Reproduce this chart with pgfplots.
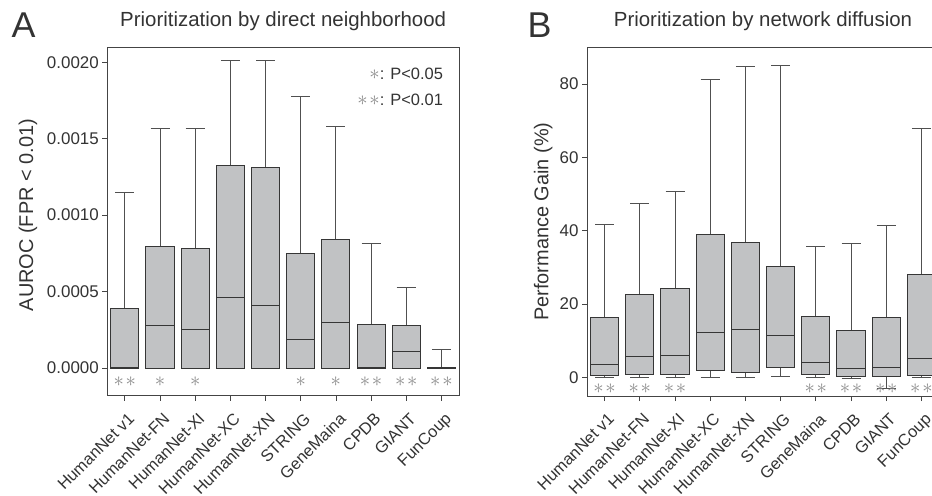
\documentclass[border=0pt]{standalone}
\usepackage{fontspec}
\setmainfont{Liberation Sans}
\usepackage{pgfplots}
\usepackage{pgfplotstable}
\pgfplotsset{compat=1.18}
\usepgfplotslibrary{statistics}

\definecolor{boxfill}{HTML}{C1C2C4}
\definecolor{boxedge}{HTML}{363636}
\definecolor{whisk}{HTML}{505050}
\definecolor{txt}{HTML}{333333}
\definecolor{stargray}{HTML}{8C8C8C}
\definecolor{axgray}{HTML}{444444}

\newcommand{\fs}[1]{\fontsize{#1}{#1}\selectfont}

% box statistics, one row per network
\pgfplotstableread{
pos lw q1 med q3 uw
0 0 0 0.000005 0.000388 0.001145
1 0 0 0.000275 0.000792 0.00157
2 0 0 0.000249 0.000779 0.001566
3 0 0 0.000462 0.001322 0.002013
4 0 0 0.000412 0.001313 0.002009
5 0 0 0.000185 0.000748 0.001774
6 0 0 0.000296 0.00084  0.001577
7 0 0 0.000002 0.000283 0.000813
8 0 0 0.000109 0.000277 0.000525
9 0 0 0.000001 0.000004 0.000124
}\dataA

\pgfplotstableread{
pos lw q1 med q3 uw
0 0    0.55 3.55  16.26 41.75
1 0    0.8  5.6   22.65 47.3
2 0    0.9  6.0   24.2  50.8
3 0    1.8  12.3  39.0  81.2
4 0    1.36 13.0  36.7  84.75
5 0.3  2.6  11.35 30.3  84.9
6 0    0.7  4.1   16.7  35.55
7 -0.3 0.1  2.45  12.8  36.6
8 -3.0 0.15 2.8   16.4  41.4
9 0    0.5  5.2   28.0  67.75
}\dataB

% significance marks: x, y, number of stars
\pgfplotstableread{
x y n
0 -0.00009 2
1 -0.00009 1
2 -0.00009 1
5 -0.00009 1
6 -0.00009 1
7 -0.00009 2
8 -0.00009 2
9 -0.00009 2
}\starsA

\pgfplotstableread{
x y n
0 -3.0 2
1 -3.0 2
2 -3.0 2
6 -3.0 2
7 -3.0 2
8 -3.0 2
9 -3.0 2
}\starsB

% draw one box from row #2 of table #1
\newcommand{\boxrow}[2]{%
  \pgfplotstablegetelem{#2}{lw}\of#1\let\vlw\pgfplotsretval
  \pgfplotstablegetelem{#2}{q1}\of#1\let\vqa\pgfplotsretval
  \pgfplotstablegetelem{#2}{med}\of#1\let\vmed\pgfplotsretval
  \pgfplotstablegetelem{#2}{q3}\of#1\let\vqc\pgfplotsretval
  \pgfplotstablegetelem{#2}{uw}\of#1\let\vuw\pgfplotsretval
  \edef\temp{\noexpand\addplot[boxplot prepared={draw position=#2,
      lower whisker=\vlw, lower quartile=\vqa, median=\vmed,
      upper quartile=\vqc, upper whisker=\vuw}] coordinates {};}%
  \temp
}

\pgfplotsset{
  panel/.style={
    scale only axis,
    height=348.7bp,
    xmin=-0.5, xmax=9.5,
    xtick={0,...,9},
    xticklabels={HumanNet v1,HumanNet-FN,HumanNet-XI,HumanNet-XC,HumanNet-XN,STRING,GeneMaina,CPDB,GIANT,FunCoup},
    tick align=outside, tick pos=left,
    major tick length=5bp,
    tick style={axgray, line width=0.8pt},
    axis line style={axgray, line width=0.8pt},
    /pgf/number format/assume math mode=true,
    tick label style={font=\fs{17}, text=txt},
    xticklabel style={xshift=2.5bp, yshift=-9.5bp, rotate=45, anchor=north east, font=\fs{16.5}, inner sep=1pt},
    title style={at={(0.5,1)}, anchor=base, yshift=14.7bp, font=\fs{20.5}, text=txt},
    ylabel style={anchor=base, font=\fs{20}, text=txt},
    boxplot/draw direction=y,
    boxplot/box extend=0.8,
    boxplot/whisker extend=0.54,
    boxplot/every box/.style={draw=boxedge, fill=boxfill, line width=1pt},
    boxplot/every whisker/.style={draw=whisk, line width=1pt},
    boxplot/every median/.style={draw=boxedge, line width=1pt},
  },
  stars/.style={
    only marks, mark=none,
    point meta=explicit symbolic,
    nodes near coords={\ifnum\pgfplotspointmeta=2 $\ast\mkern1.5mu\ast$\else$\ast$\fi},
    every node near coord/.style={anchor=center, inner sep=0pt, text=stargray, font=\fs{21}},
  },
}

\begin{document}
\begin{tikzpicture}
\begin{axis}[
    panel,
    at={(107.3bp,100.3bp)}, anchor=south west,
    width=351.7bp,
    ymin=-0.000181, ymax=0.0021,
    ytick={0,0.0005,0.001,0.0015,0.002},
    scaled y ticks=false,
    yticklabel style={/pgf/number format/.cd, fixed, fixed zerofill, precision=4},
    title={Prioritization by direct neighborhood},
    ylabel={AUROC (FPR < 0.01)},
    ylabel style={at={(axis description cs:-0.211,0.518)}},
]
\pgfplotsinvokeforeach{0,...,9}{\boxrow{\dataA}{#1}}
\addplot[stars] table[x=x, y=y, meta=n] {\starsA};
\node[anchor=base east, inner sep=0pt, font=\fs{16.5}, text=txt]
  at (axis cs:9.05,0.001887) {{\color{stargray}\fs{22}$\ast$}: P<0.05};
\node[anchor=base east, inner sep=0pt, font=\fs{16.5}, text=txt]
  at (axis cs:9.05,0.001717) {{\color{stargray}\fs{22}$\ast\mkern1.5mu\ast$}: P<0.01};
\end{axis}

\begin{axis}[
    panel,
    at={(587bp,100bp)}, anchor=south west,
    width=352bp,
    ymin=-5.1, ymax=90,
    ytick={0,20,40,60,80},
    title={Prioritization by network diffusion},
    ylabel={Performance Gain (\%)},
    ylabel style={at={(axis description cs:-0.11,0.5)}},
]
\pgfplotsinvokeforeach{0,...,9}{\boxrow{\dataB}{#1}}
\addplot[stars] table[x=x, y=y, meta=n] {\starsB};
\end{axis}

\node[anchor=base west, inner sep=0pt, font=\fs{36}, text=txt] at (11.5bp,458.7bp) {A};
\node[anchor=base west, inner sep=0pt, font=\fs{36}, text=txt] at (527.5bp,458.7bp) {B};

\pgfresetboundingbox
\path (0,0) rectangle (932bp,496bp);
\end{tikzpicture}
\end{document}
